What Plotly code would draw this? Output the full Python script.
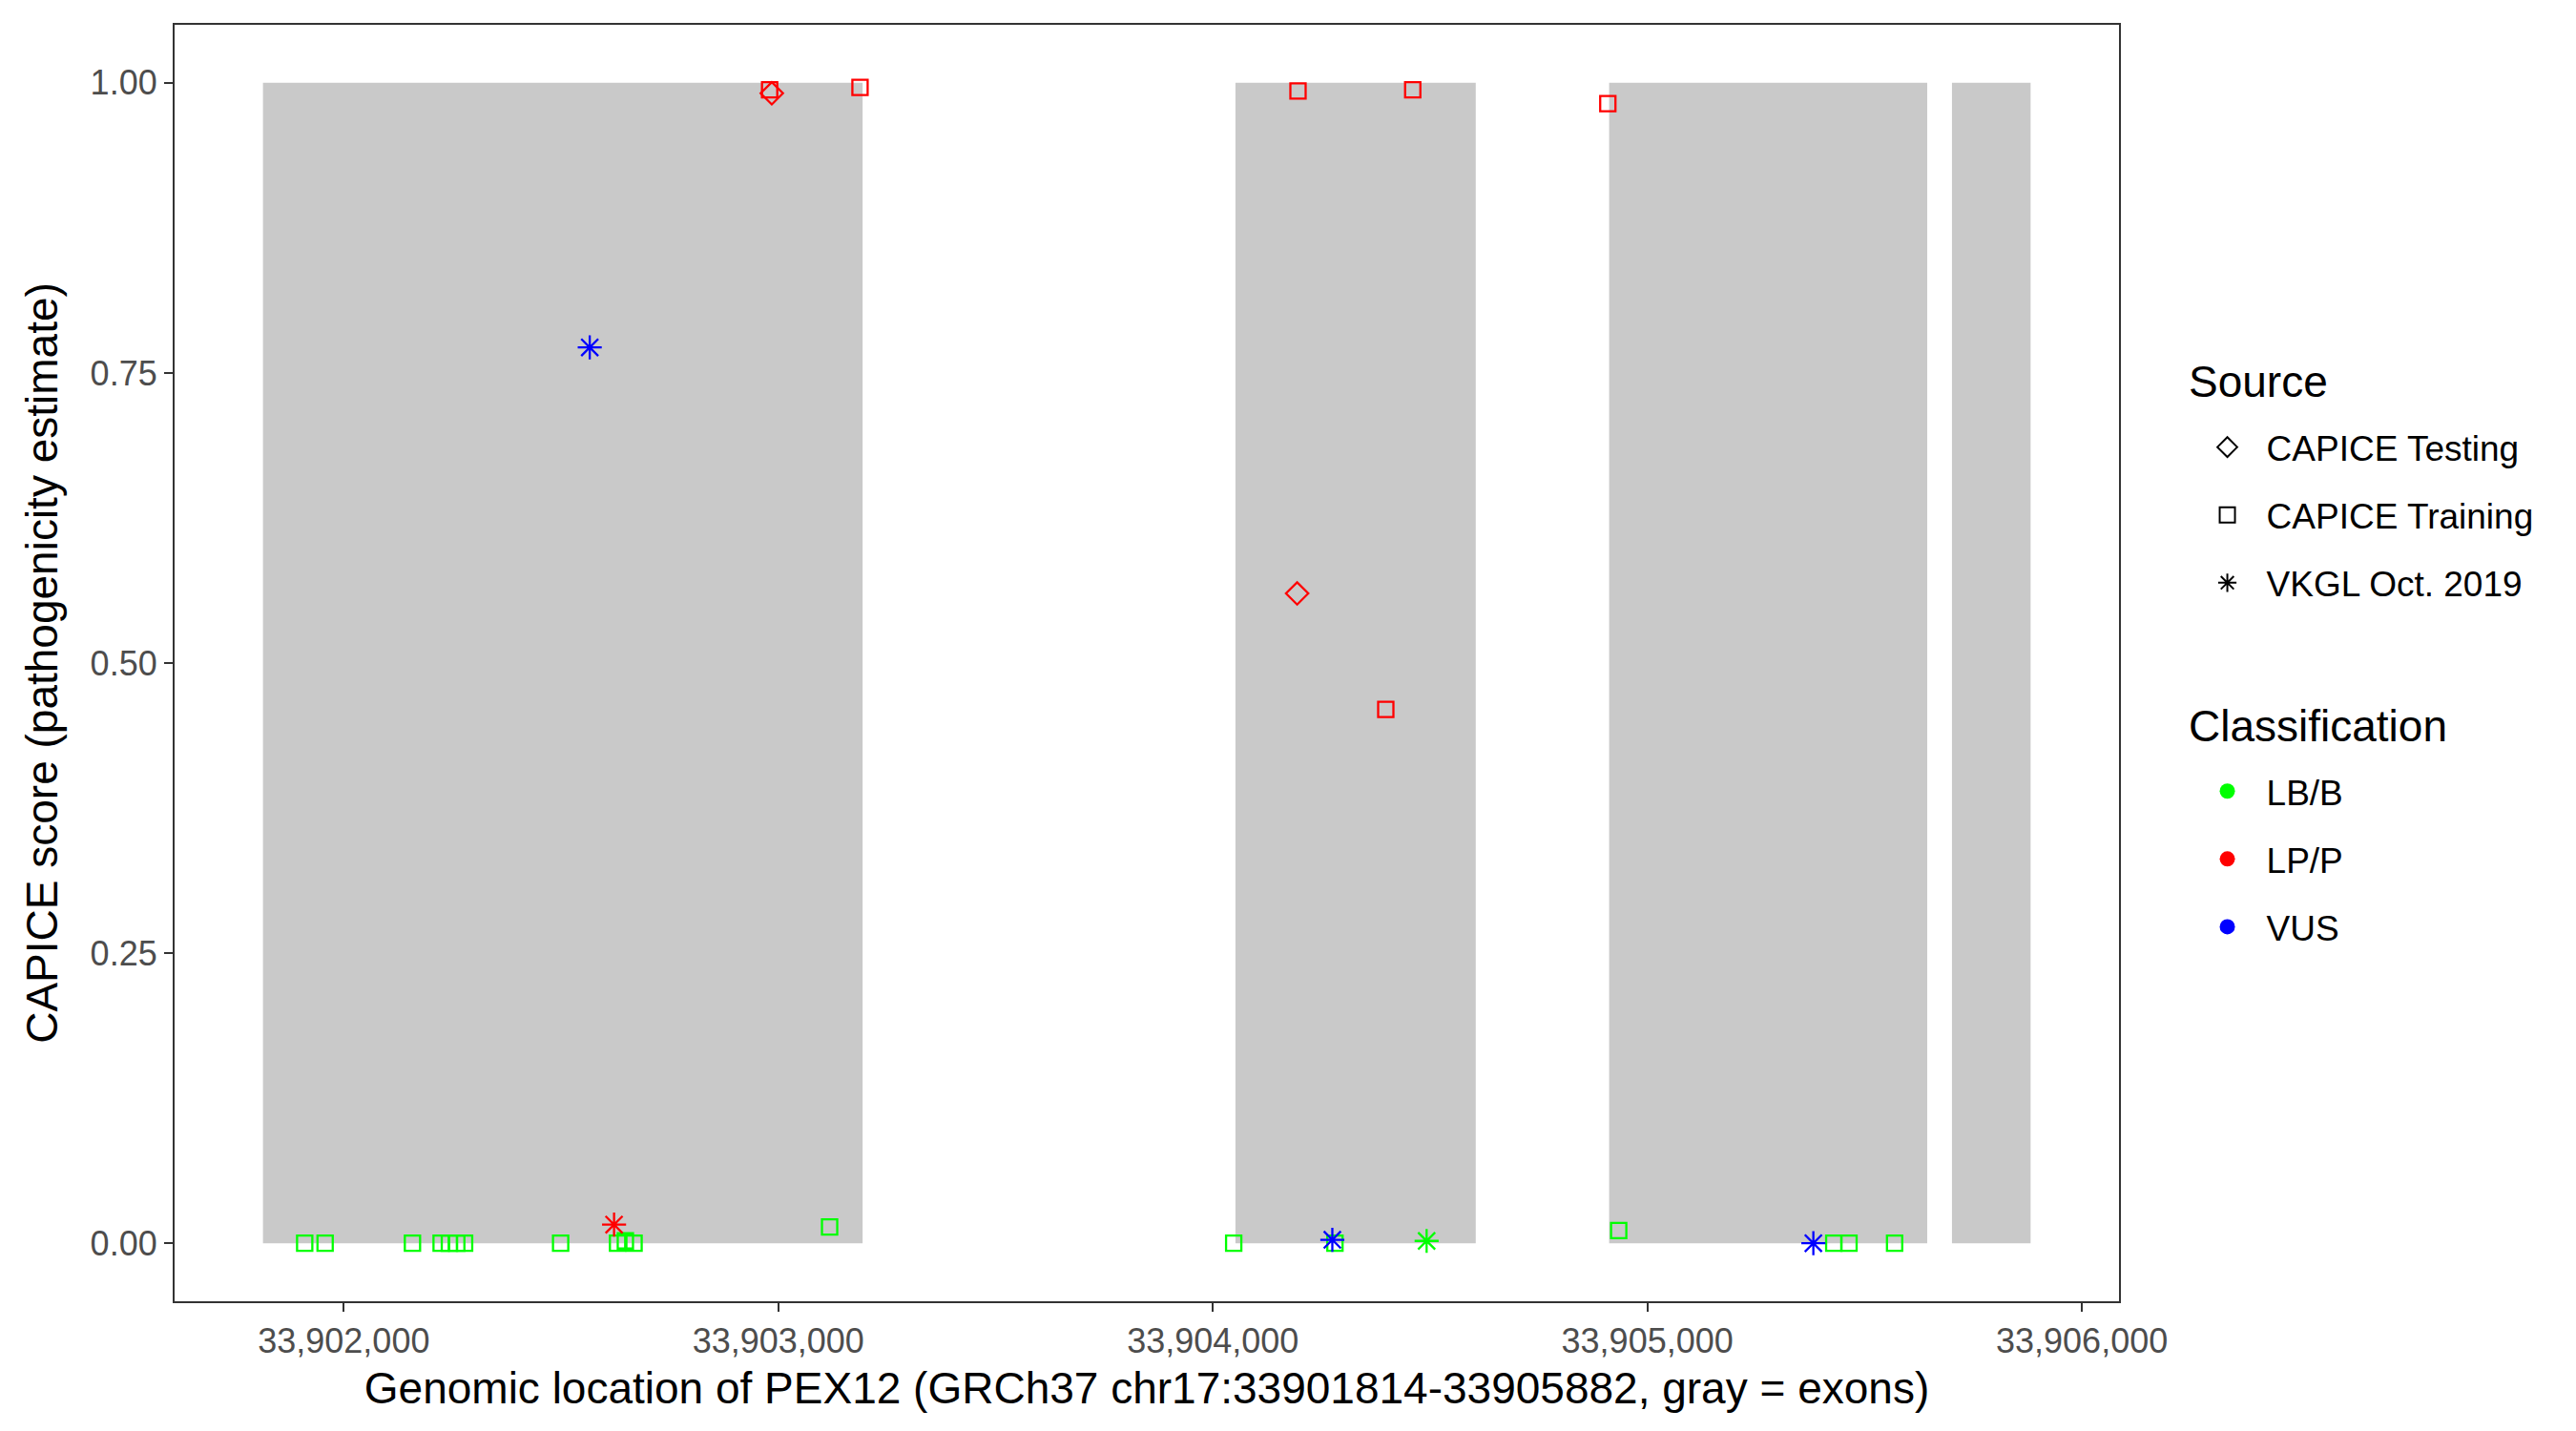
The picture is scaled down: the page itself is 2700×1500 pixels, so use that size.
import plotly.graph_objects as go

# exon blocks (gray rectangles)
exon_start = [33901814, 33904052, 33904912, 33905701]
exon_end = [33903194, 33904605, 33905644, 33905882]

# variants
pos = [33901910, 33901957, 33902158, 33902224, 33902243, 33902260, 33902278,
       33902499, 33902630, 33902648, 33902668, 33903118, 33904048, 33904281,
       33904934, 33905429, 33905464, 33905569,
       33902980, 33903188, 33904196, 33904460, 33904909, 33904398,
       33902985, 33904194,
       33902566, 33902622, 33904275, 33904492, 33905382]
score = [0.0, 0.0, 0.0, 0.0, 0.0, 0.0, 0.0,
         0.0, 0.0, 0.002, 0.0, 0.014, 0.0, 0.0,
         0.011, 0.0, 0.0, 0.0,
         0.994, 0.996, 0.993, 0.994, 0.982, 0.46,
         0.991, 0.56,
         0.772, 0.016, 0.003, 0.002, 0.0]
source = (["CAPICE Training"] * 18 + ["CAPICE Training"] * 6
          + ["CAPICE Testing"] * 2 + ["VKGL Oct. 2019"] * 5)
classification = (["LB/B"] * 18 + ["LP/P"] * 6 + ["LP/P"] * 2
                  + ["VUS", "LP/P", "VUS", "LB/B", "VUS"])

sources = ["CAPICE Testing", "CAPICE Training", "VKGL Oct. 2019"]
classes = ["LB/B", "LP/P", "VUS"]

symbols = {"CAPICE Testing": "diamond-open", "CAPICE Training": "square-open",
           "VKGL Oct. 2019": "asterisk-open"}
sizes = {"CAPICE Testing": 18, "CAPICE Training": 16, "VKGL Oct. 2019": 21}
colors = {"LB/B": "#00FF00", "LP/P": "#FF0000", "VUS": "#0000FF"}

FONT = "Liberation Sans, Arial, sans-serif"

fig = go.Figure()

# exons
for s, e in zip(exon_start, exon_end):
    fig.add_shape(type="rect", x0=s, x1=e, y0=0, y1=1, xref="x", yref="y",
                  fillcolor="#C9C9C9", line_width=0, layer="below")

# points: squares, then diamonds, then stars on top
for src in ["CAPICE Training", "CAPICE Testing", "VKGL Oct. 2019"]:
    for cl in classes:
        xs = [p for p, s, c in zip(pos, source, classification) if s == src and c == cl]
        ys = [v for v, s, c in zip(score, source, classification) if s == src and c == cl]
        if not xs:
            continue
        fig.add_trace(go.Scatter(
            x=xs, y=ys, mode="markers", showlegend=False,
            marker=dict(symbol=symbols[src], size=sizes[src], color=colors[cl],
                        line=dict(width=2.3, color=colors[cl]))
        ))

# legend entries
for i, src in enumerate(sources):
    fig.add_trace(go.Scatter(
        x=[None], y=[None], mode="markers", name=src, legend="legend",
        legendgroup="s%d" % i,
        marker=dict(symbol=symbols[src], size=16, color="black",
                    line=dict(width=2, color="black"))
    ))
for i, cl in enumerate(classes):
    fig.add_trace(go.Scatter(
        x=[None], y=[None], mode="markers", name=cl, legend="legend2",
        legendgroup="c%d" % i,
        marker=dict(symbol="circle", size=16, color=colors[cl])
    ))

leg = dict(font=dict(family=FONT, size=37, color="black"),
           bgcolor="rgba(0,0,0,0)", borderwidth=0, traceorder="grouped",
           tracegroupgap=20, itemwidth=72, xanchor="left", yanchor="top")

fig.update_layout(
    width=2700, height=1500,
    paper_bgcolor="white", plot_bgcolor="white",
    margin=dict(l=175, r=487, t=18, b=144),
    font=dict(family=FONT),
    legend=dict(leg, x=1.0356, y=0.692),
    legend2=dict(leg, x=1.0356, y=0.4225),
    annotations=[
        dict(text="Source", xref="paper", yref="paper", x=1.0348, y=0.7205,
             xanchor="left", yanchor="middle", showarrow=False,
             font=dict(family=FONT, size=46, color="black")),
        dict(text="Classification", xref="paper", yref="paper", x=1.0348, y=0.4507,
             xanchor="left", yanchor="middle", showarrow=False,
             font=dict(family=FONT, size=46, color="black")),
    ],
    xaxis=dict(
        range=[33901610.6, 33906085.4],
        tickvals=[33902000, 33903000, 33904000, 33905000, 33906000],
        tickformat=",d", showgrid=False, zeroline=False,
        showline=True, mirror=True, linecolor="#333333", linewidth=2.2,
        ticks="outside", ticklen=9, tickwidth=2, tickcolor="#333333",
        tickfont=dict(family=FONT, size=36, color="#4D4D4D"),
        title=dict(text="Genomic location of PEX12 (GRCh37 chr17:33901814-33905882, gray = exons)",
                   font=dict(family=FONT, size=46, color="black"), standoff=14),
    ),
    yaxis=dict(
        range=[-0.05, 1.05],
        tickvals=[0, 0.25, 0.5, 0.75, 1.0], tickformat=".2f",
        showgrid=False, zeroline=False,
        showline=True, mirror=True, linecolor="#333333", linewidth=2.2,
        ticks="outside", ticklen=9, tickwidth=2, tickcolor="#333333",
        tickfont=dict(family=FONT, size=36, color="#4D4D4D"),
        title=dict(text="CAPICE score (pathogenicity estimate)",
                   font=dict(family=FONT, size=46, color="black"), standoff=20),
    ),
)

fig.write_html("out.html")
